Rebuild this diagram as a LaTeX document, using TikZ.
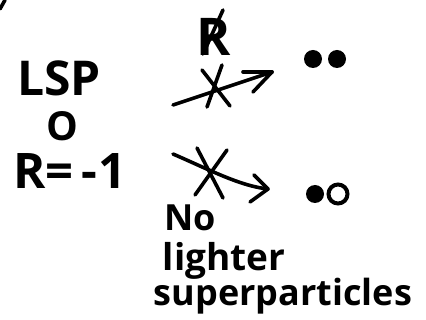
\documentclass[tikz,border=0pt]{standalone}
\usepackage{fontspec}
\setmainfont{Open Sans}
\begin{document}
\begin{tikzpicture}[x=1pt,y=-1pt,
  hand/.style={line width=3.6pt,line cap=round,line join=round},
  txt/.style={inner sep=0pt,anchor=center,font=\bfseries},
  dotf/.style={circle,fill=black,inner sep=0pt,minimum size=18pt},
  doto/.style={circle,draw=black,line width=4pt,inner sep=0pt,minimum size=19pt}]
\useasboundingbox (0,0) rectangle (426,320);
% text
\node[txt] (lsp) at (59,78) {\fontsize{48}{52}\selectfont LSP};
\node[txt,text depth=0pt,text height=28pt] (o) at (62,127) {\fontsize{40}{42}\selectfont O};
\node[txt,text depth=0pt,text height=35pt] (r) at (70,171) {\fontsize{49}{52}\selectfont R=\,-\kern1pt 1};
\node[txt] (rs) at (214,37) {\fontsize{52}{56}\selectfont R};
\node[txt] (no) at (190,218) {\fontsize{36}{40}\selectfont No};
\node[txt] (lighter) at (224,261) {\fontsize{37}{40}\selectfont lighter};
\node[txt] (super) at (283,296) {\fontsize{36}{40}\selectfont superparticles};
% dots
\node[dotf] (d1) at (313,59) {};
\node[dotf] (d2) at (337,59) {};
\node[dotf] (d3) at (315,194) {};
\node[doto] (d4) at (338,194) {};
% slash over R
\coordinate (rsa) at (223,10);
\coordinate (rsb) at (203,54);
\draw[hand] (rsa) -- (rsb);
% top arrow
\coordinate (t0) at (173,105);
\coordinate (t1) at (272,72);
\draw[hand] (t0) -- (t1);
\draw[hand] (t1) -- ++(-29,0);
\draw[hand] (t1) -- ++(-19,20);
\coordinate (ta1) at (202,70);
\coordinate (ta2) at (230,106);
\coordinate (tb1) at (222,65);
\coordinate (tb2) at (207,107);
\draw[hand] (ta1) -- (ta2);
\draw[hand] (tb1) -- (tb2);
% bottom arrow
\coordinate (b0) at (173,154);
\coordinate (b1) at (268,189);
\draw[hand] (b0) .. controls (210,170) and (240,186) .. (b1);
\draw[hand] (b1) -- ++(-14,-14);
\draw[hand] (b1) -- ++(-18,13);
\coordinate (ba1) at (197,148);
\coordinate (ba2) at (223,198);
\coordinate (bb1) at (227,150);
\coordinate (bb2) at (195,195);
\draw[hand] (ba1) -- (ba2);
\draw[hand] (bb1) -- (bb2);
% corner stroke
\coordinate (c0) at (0,9);
\coordinate (c1) at (5,0);
\draw[hand] (c0) -- (c1);
\end{tikzpicture}
\end{document}
